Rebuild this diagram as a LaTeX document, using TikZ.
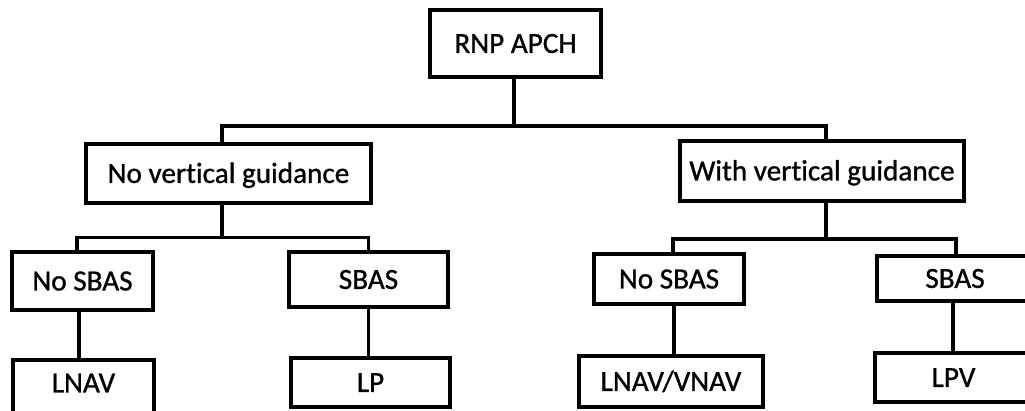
\documentclass[tikz,border=0pt]{standalone}
\usepackage{fontspec}
\setmainfont{Carlito}[Ligatures=NoCommon, FakeBold=1]
\begin{document}
\begin{tikzpicture}[x=1pt,y=-1pt,
  box/.style={draw, line width=3.2pt, inner sep=0pt, text height=18.8pt,
    text depth=0pt, font=\fontsize{29.2}{31}\selectfont, align=center},
  link/.style={line width=3.2pt}]
  \useasboundingbox (0,0) rectangle (1025,411);
  \clip (0,0) rectangle (1025,411);

  % top level
  \node[box, minimum width=171pt, minimum height=67pt] (root) at (515.5,43.5) {RNP APCH};

  % second level
  \node[box, minimum width=285pt, minimum height=59pt] (nvg) at (228.5,173.5) {No vertical guidance};
  \node[box, minimum width=284pt, minimum height=60pt] (wvg) at (822,171) {With vertical guidance};

  % third level
  \node[box, minimum width=141pt, minimum height=58pt] (ns1) at (82.5,281) {No SBAS};
  \node[box, minimum width=159pt, minimum height=55pt] (sb1) at (368.5,279.5) {SBAS};
  \node[box, minimum width=150pt, minimum height=50pt] (ns2) at (669,279) {No SBAS};
  \node[box, minimum width=156pt, minimum height=45pt] (sb2) at (955,278.5) {SBAS};

  % approach types
  \node[box, minimum width=141pt, minimum height=60pt, text depth=14pt] (lnav) at (83.5,390) {LNAV};
  \node[box, minimum width=159pt, minimum height=49pt] (lp) at (370.5,382.5) {LP};
  \node[box, minimum width=184pt, minimum height=51pt] (lv) at (671,381.5) {LNAV/VNAV};
  \node[box, minimum width=157pt, minimum height=49pt] (lpv) at (953.5,377.5) {LPV};

  % junction points of the tree
  \coordinate (j1) at (514,126);
  \coordinate (j2) at (222,237.5);
  \coordinate (j3) at (826,239);

  % root to second level
  \draw[link] ([xshift=-1.5]root.south) -- ([xshift=-1.5]root.south |- j1);
  \draw[link] ([xshift=-6.5]nvg.north) |- (j1) -| ([xshift=4]wvg.north);

  % second to third level
  \draw[link] ([xshift=-6.5]nvg.south) -- (j2);
  \draw[link] ([xshift=-5.5]ns1.north) |- (j2) -| (sb1.north);
  \draw[link] ([xshift=4]wvg.south) -- (j3);
  \draw[link] ([xshift=4]ns2.north) |- (j3) -| ([xshift=1]sb2.north);

  % third level to approach types
  \draw[link] ([xshift=-3.5]ns1.south) -- ([xshift=-3.5]ns1.south |- lnav.north);
  \draw[link] (sb1.south) -- (sb1.south |- lp.north);
  \draw[link] ([xshift=5]ns2.south) -- ([xshift=5]ns2.south |- lv.north);
  \draw[link] ([xshift=-2]sb2.south) -- ([xshift=-2]sb2.south |- lpv.north);
\end{tikzpicture}
\end{document}
